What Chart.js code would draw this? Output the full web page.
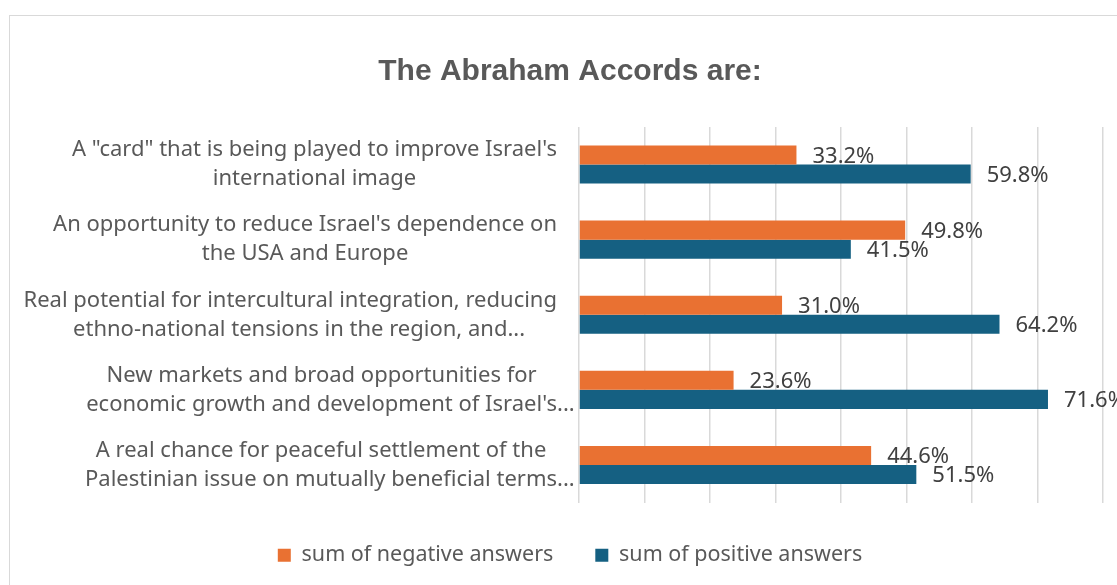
<!DOCTYPE html>
<html>
<head>
<meta charset="utf-8">
<script src="https://cdn.jsdelivr.net/npm/chart.js@4/dist/chart.umd.min.js"></script>
<style>
  html, body { margin: 0; padding: 0; background: #fff; overflow: hidden; }
  #box {
    position: absolute; left: 9px; top: 15px;
    width: 1140px; height: 600px;
    border: 1px solid #d9d9d9; box-sizing: border-box;
  }
</style>
</head>
<body>
<div id="box"><canvas id="chart"></canvas></div>
<script>
const categories = [
  ['A "card" that is being played to improve Israel\'s', 'international image'],
  ['An opportunity to reduce Israel\'s dependence on', 'the USA and Europe'],
  ['Real potential for intercultural integration, reducing', 'ethno-national tensions in the region, and...'],
  ['New markets and broad opportunities for', 'economic growth and development of Israel\'s...'],
  ['A real chance for peaceful settlement of the', 'Palestinian issue on mutually beneficial terms...']
];
const negativeAnswers = [33.2, 49.8, 31.0, 23.6, 44.6];
const positiveAnswers = [59.8, 41.5, 64.2, 71.6, 51.5];

const FONT = "'Noto Sans', 'Liberation Sans', Arial, sans-serif";
const TITLE_FONT = "'Liberation Sans', Arial, sans-serif";

// value labels at the end of each bar
const barLabels = {
  id: 'barLabels',
  afterDatasetsDraw(chart) {
    const ctx = chart.ctx;
    ctx.save();
    ctx.font = '22px ' + FONT;
    ctx.fillStyle = '#404040';
    ctx.textBaseline = 'middle';
    ctx.textAlign = 'left';
    chart.data.datasets.forEach((ds, i) => {
      chart.getDatasetMeta(i).data.forEach((bar, j) => {
        ctx.fillText(ds.data[j].toFixed(1) + '%', bar.x + 16, bar.y + 1.5);
      });
    });
    ctx.restore();
  }
};

// category labels: lines centred in a right-aligned block, ellipsis hanging out
const catLabels = {
  id: 'catLabels',
  afterDraw(chart) {
    const ctx = chart.ctx;
    const y = chart.scales.y;
    const right = 547;
    ctx.save();
    ctx.font = '22px ' + FONT;
    ctx.fillStyle = '#595959';
    ctx.textBaseline = 'middle';
    ctx.textAlign = 'left';
    categories.forEach((lines, i) => {
      const cy = y.getPixelForValue(i);
      const widths = lines.map(l => ctx.measureText(l.replace(/\.\.\.$/, '')).width);
      const maxW = Math.max(...widths);
      const cx = right - maxW / 2;
      lines.forEach((l, k) => {
        ctx.fillText(l, cx - widths[k] / 2, cy + (k - (lines.length - 1) / 2) * 29);
      });
    });
    ctx.restore();
  }
};

new Chart(document.getElementById('chart'), {
  type: 'bar',
  data: {
    labels: categories.map(c => c.join(' ')),
    datasets: [{
      label: 'sum of negative answers',
      data: negativeAnswers,
      backgroundColor: '#E97132',
      barPercentage: 1,
      categoryPercentage: 0.507
    }, {
      label: 'sum of positive answers',
      data: positiveAnswers,
      backgroundColor: '#156082',
      barPercentage: 1,
      categoryPercentage: 0.507
    }]
  },
  options: {
    indexAxis: 'y',
    responsive: true,
    maintainAspectRatio: false,
    animation: false,
    layout: { padding: { top: 0, left: 27, right: 45, bottom: 38 } },
    scales: {
      x: {
        min: 0, max: 80,
        ticks: { display: false, stepSize: 10 },
        grid: { color: '#d9d9d9', lineWidth: 1.5, drawTicks: false },
        border: { display: false }
      },
      y: {
        ticks: { display: false },
        grid: { display: false, drawTicks: false },
        border: { display: false },
        afterFit(scale) { scale.width = 542; }
      }
    },
    plugins: {
      title: {
        display: true,
        text: 'The Abraham Accords are:',
        color: '#595959',
        font: { family: TITLE_FONT, size: 30, weight: 'bold', lineHeight: 1.2 },
        padding: { top: 38, bottom: 37 }
      },
      legend: {
        position: 'bottom',
        labels: {
          color: '#595959',
          font: { family: FONT, size: 21.5 },
          boxWidth: 13,
          boxHeight: 13,
          padding: 42
        }
      },
      tooltip: { enabled: false }
    }
  },
  plugins: [barLabels, catLabels]
});
</script>
</body>
</html>
